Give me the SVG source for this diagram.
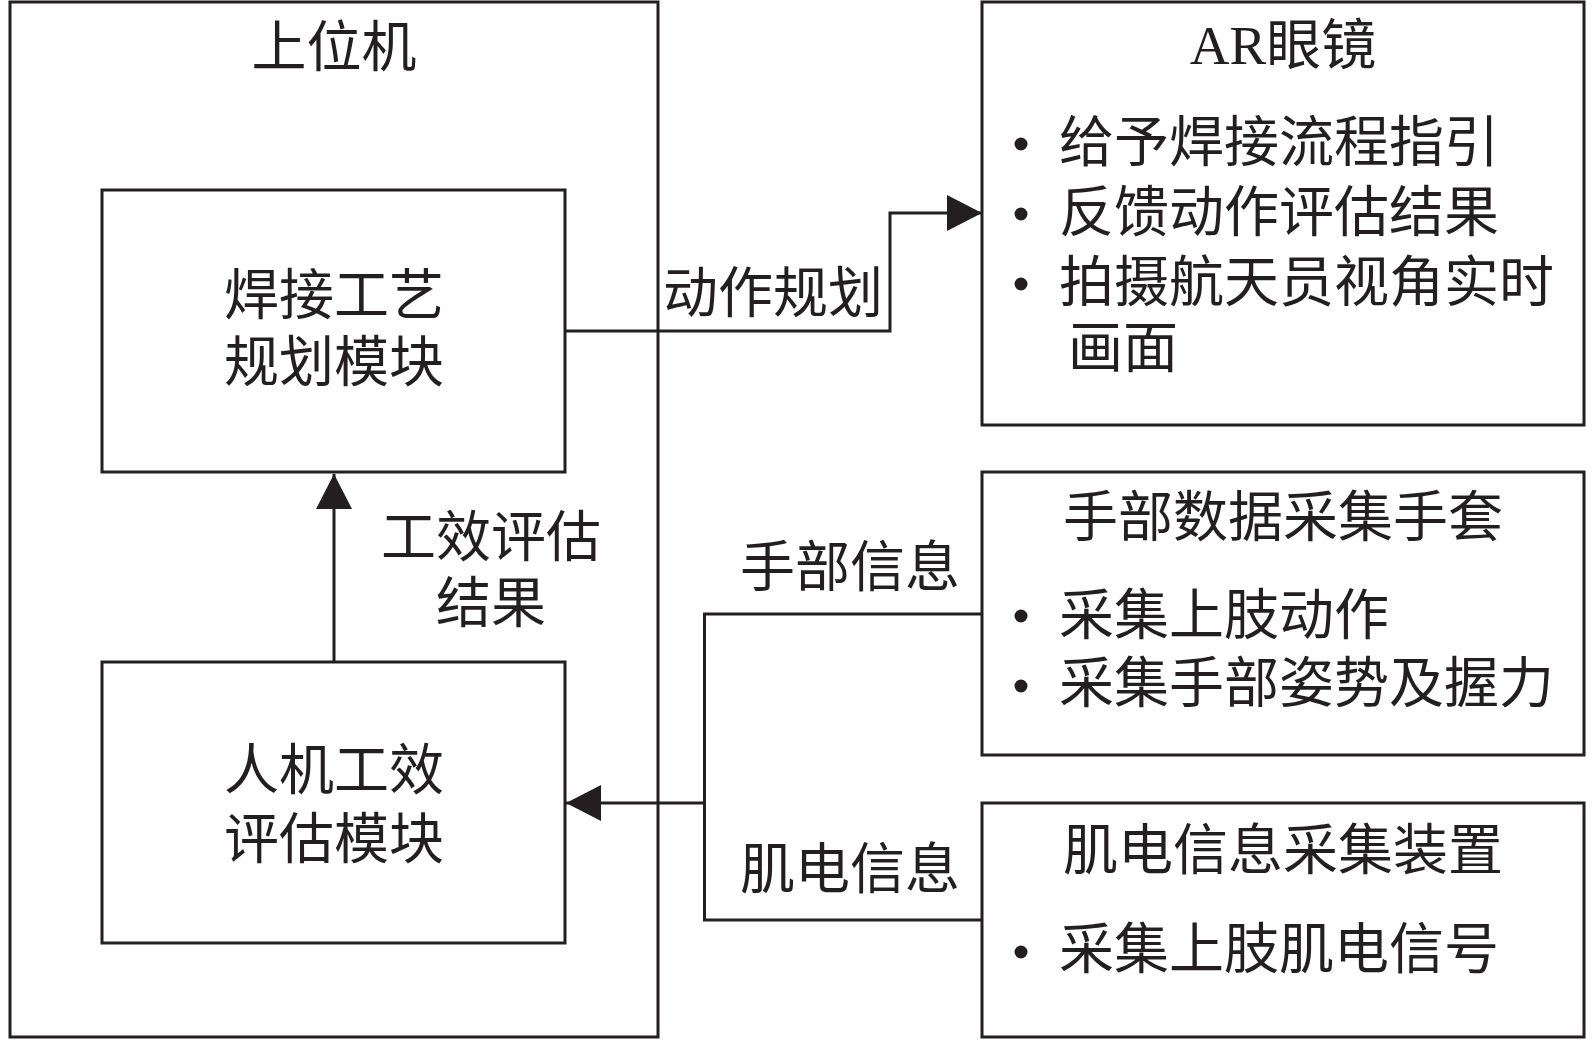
<svg xmlns="http://www.w3.org/2000/svg" width="1594" height="1040" viewBox="0 0 1594 1040">
<style>
.box{fill:#fff;stroke:#231f20;stroke-width:3}
.ln{fill:none;stroke:#231f20;stroke-width:3}
text{font-family:"Liberation Serif","Noto Sans CJK SC",serif;font-size:55px;fill:#231f20}
.c{text-anchor:middle}
.dot{fill:#231f20}
</style>
<defs>
<marker id="arr" viewBox="0 0 35 36" refX="35" refY="18" markerWidth="35" markerHeight="36" markerUnits="userSpaceOnUse" orient="auto">
<path d="M0,0 L35,18 L0,36 z" fill="#231f20"/>
</marker>
</defs>
<rect width="1594" height="1040" fill="#fff"/>
<g id="host">
<rect class="box" x="10" y="2" width="648" height="1035"/>
<text class="c" x="334" y="66">上位机</text>
</g>
<g id="weld">
<rect class="box" x="102" y="190" width="463" height="282"/>
<text class="c" x="334" y="314">焊接工艺</text>
<text class="c" x="334" y="381">规划模块</text>
</g>
<g id="ergo">
<rect class="box" x="102" y="662" width="463" height="281"/>
<text class="c" x="334" y="789">人机工效</text>
<text class="c" x="334" y="858">评估模块</text>
</g>
<g id="ar">
<rect class="box" x="982" y="2" width="602" height="423"/>
<text class="c" x="1283" y="64">AR眼镜</text>
<circle class="dot" cx="1021" cy="144" r="6.5"/>
<circle class="dot" cx="1021" cy="214" r="6.5"/>
<circle class="dot" cx="1021" cy="284" r="6.5"/>
<text x="1059" y="161">给予焊接流程指引</text>
<text x="1059" y="231">反馈动作评估结果</text>
<text x="1059" y="301">拍摄航天员视角实时</text>
<text x="1068" y="367">画面</text>
</g>
<g id="glove">
<rect class="box" x="982" y="472" width="602" height="283"/>
<text class="c" x="1283" y="536">手部数据采集手套</text>
<circle class="dot" cx="1021" cy="616" r="6.5"/>
<circle class="dot" cx="1021" cy="686" r="6.5"/>
<text x="1059" y="634">采集上肢动作</text>
<text x="1059" y="702">采集手部姿势及握力</text>
</g>
<g id="emg">
<rect class="box" x="982" y="803" width="602" height="234"/>
<text class="c" x="1283" y="869">肌电信息采集装置</text>
<circle class="dot" cx="1021" cy="952" r="6.5"/>
<text x="1059" y="968">采集上肢肌电信号</text>
</g>
<g id="connectors">
<path class="ln" d="M565,331 H890 V213 H982" marker-end="url(#arr)"/>
<path class="ln" d="M334,662 V474" marker-end="url(#arr)"/>
<path class="ln" d="M982,614 H704.5 V920 H982"/>
<path class="ln" d="M704.5,803 H566" marker-end="url(#arr)"/>
<text x="663" y="312">动作规划</text>
<text class="c" x="491" y="556">工效评估</text>
<text class="c" x="491" y="622">结果</text>
<text x="740" y="586">手部信息</text>
<text x="740" y="888">肌电信息</text>
</g>
</svg>
